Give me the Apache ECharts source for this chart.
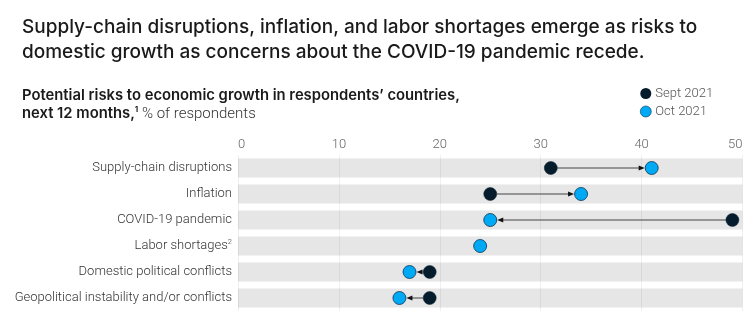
<!DOCTYPE html>
<html>
<head>
<meta charset="utf-8">
<script src="https://cdn.jsdelivr.net/npm/echarts@6/dist/echarts.min.js"></script>
<style>
  html, body { margin: 0; padding: 0; background: #fff; }
  #chart { width: 755px; height: 330px; }
</style>
</head>
<body>
<div id="chart"></div>
<script>
const categories = [
  'Supply-chain disruptions',
  'Inflation',
  'COVID-19 pandemic',
  'Labor shortages',
  'Domestic political conflicts',
  'Geopolitical instability and/or conflicts'
];
const sept2021 = [31, 25, 49, null, 19, 19];
const oct2021 = [41, 34, 25, 24, 17, 16];
const xTicks = [0, 10, 20, 30, 40, 50];
const bandMax = 50;

const DARK = '#051c2c';
const BLUE = '#00a9f4';
const FONT = 'Roboto, "Liberation Sans", sans-serif';
const HFONT = 'Inter, Roboto, "Liberation Sans", sans-serif';

const chart = echarts.init(document.getElementById('chart'), null, { renderer: 'canvas' });

const arrowData = [];
categories.forEach((c, i) => {
  if (sept2021[i] != null && oct2021[i] != null) arrowData.push([sept2021[i], oct2021[i], i]);
});

const option = {
  backgroundColor: '#fff',
  animation: false,
  title: [
    {
      text: 'Supply-chain disruptions, inflation, and labor shortages emerge as risks to\ndomestic growth as concerns about the COVID-19 pandemic recede.',
      left: 17, top: 10,
      textStyle: { fontFamily: HFONT, fontSize: 19, fontWeight: 500, color: '#1a1a1a', lineHeight: 25 }
    },
    {
      text: '{b|Potential risks to economic growth in respondents\u2019 countries,}\n{b|next 12 months,}{sup|1}{n| % of respondents}',
      left: 17, top: 82,
      textStyle: {
        fontFamily: HFONT, color: '#1a1a1a', lineHeight: 18,
        rich: {
          b: { fontFamily: HFONT, fontSize: 14.8, fontWeight: 600, color: '#1a1a1a', lineHeight: 18 },
          sup: { fontFamily: HFONT, fontSize: 8, color: '#1a1a1a', padding: [0, 0, 8, 0], lineHeight: 18 },
          n: { fontFamily: FONT, fontSize: 15, fontWeight: 300, color: '#333', lineHeight: 18 }
        }
      }
    }
  ],
  legend: {
    orient: 'vertical',
    left: 635, top: 82,
    itemWidth: 11, itemHeight: 11, itemGap: 5,
    icon: 'circle',
    data: [
      { name: 'Sept 2021', itemStyle: { color: DARK, borderWidth: 0 } },
      { name: 'Oct 2021', itemStyle: { color: BLUE, borderColor: '#0a3556', borderWidth: 0.6 } }
    ],
    textStyle: { fontFamily: FONT, fontSize: 13, fontWeight: 300, color: '#555', padding: [0, 0, 0, -1] }
  },
  grid: { left: 238, right: 12.5, top: 155, bottom: 19, containLabel: false },
  xAxis: {
    type: 'value',
    position: 'top',
    min: 0, max: 50, interval: 10,
    axisLine: { show: false },
    axisTick: { show: false },
    splitLine: { show: true, lineStyle: { color: 'rgba(0,0,0,0.06)', width: 1 } },
    axisLabel: {
      margin: 4,
      fontFamily: FONT, fontSize: 13, fontWeight: 300, color: '#666',
      alignMinLabel: 'left', alignMaxLabel: 'right',
      customValues: xTicks
    }
  },
  yAxis: {
    type: 'category',
    inverse: true,
    data: categories,
    axisLine: { show: false },
    axisTick: { show: false },
    splitLine: { show: false },
    axisLabel: {
      margin: 6,
      fontFamily: FONT, fontSize: 13, fontWeight: 300, color: '#333',
      formatter: function (v) {
        if (v === 'Labor shortages') return '{t|' + v + '}{s|2}';
        return '{t|' + v + '}';
      },
      rich: {
        t: { fontFamily: FONT, fontSize: 13, fontWeight: 300, color: '#333' },
        s: { fontFamily: FONT, fontSize: 7.5, fontWeight: 300, color: '#333', padding: [0, 0, 7, 0] }
      }
    }
  },
  series: [
    {
      name: 'band',
      type: 'bar',
      z: -1,
      silent: true,
      barWidth: 19,
      itemStyle: { color: '#e6e6e6' },
      data: categories.map(() => bandMax)
    },
    {
      name: 'arrows',
      type: 'custom',
      z: 3,
      silent: true,
      data: arrowData,
      encode: { x: [0, 1], y: 2 },
      renderItem: function (params, api) {
        const s = api.value(0), o = api.value(1), idx = api.value(2);
        const p1 = api.coord([s, idx]);
        const p2 = api.coord([o, idx]);
        const d = p2[0] > p1[0] ? 1 : -1;
        const r = 6.5;
        const x0 = p1[0] + d * r;
        const tip = p2[0] - d * (r + 0.5);
        const aLen = 6, aW = 2.6;
        const y = p1[1];
        return {
          type: 'group',
          children: [
            { type: 'line', shape: { x1: x0, y1: y, x2: tip - d * aLen + d * 1, y2: y }, style: { stroke: '#444', lineWidth: 1 } },
            { type: 'polygon', shape: { points: [[tip, y], [tip - d * aLen, y - aW], [tip - d * aLen, y + aW]] }, style: { fill: '#111' } }
          ]
        };
      }
    },
    {
      name: 'Sept 2021',
      type: 'scatter',
      z: 4,
      symbol: 'circle',
      symbolSize: 13,
      itemStyle: { color: DARK, borderColor: DARK, borderWidth: 0.5, opacity: 1 },
      data: sept2021.map((v, i) => v == null ? null : [v, i])
    },
    {
      name: 'Oct 2021',
      type: 'scatter',
      z: 4,
      symbol: 'circle',
      symbolSize: 13,
      itemStyle: { color: BLUE, borderColor: '#0a3556', borderWidth: 0.8, opacity: 1 },
      data: oct2021.map((v, i) => [v, i])
    }
  ]
};

chart.setOption(option);
</script>
</body>
</html>
